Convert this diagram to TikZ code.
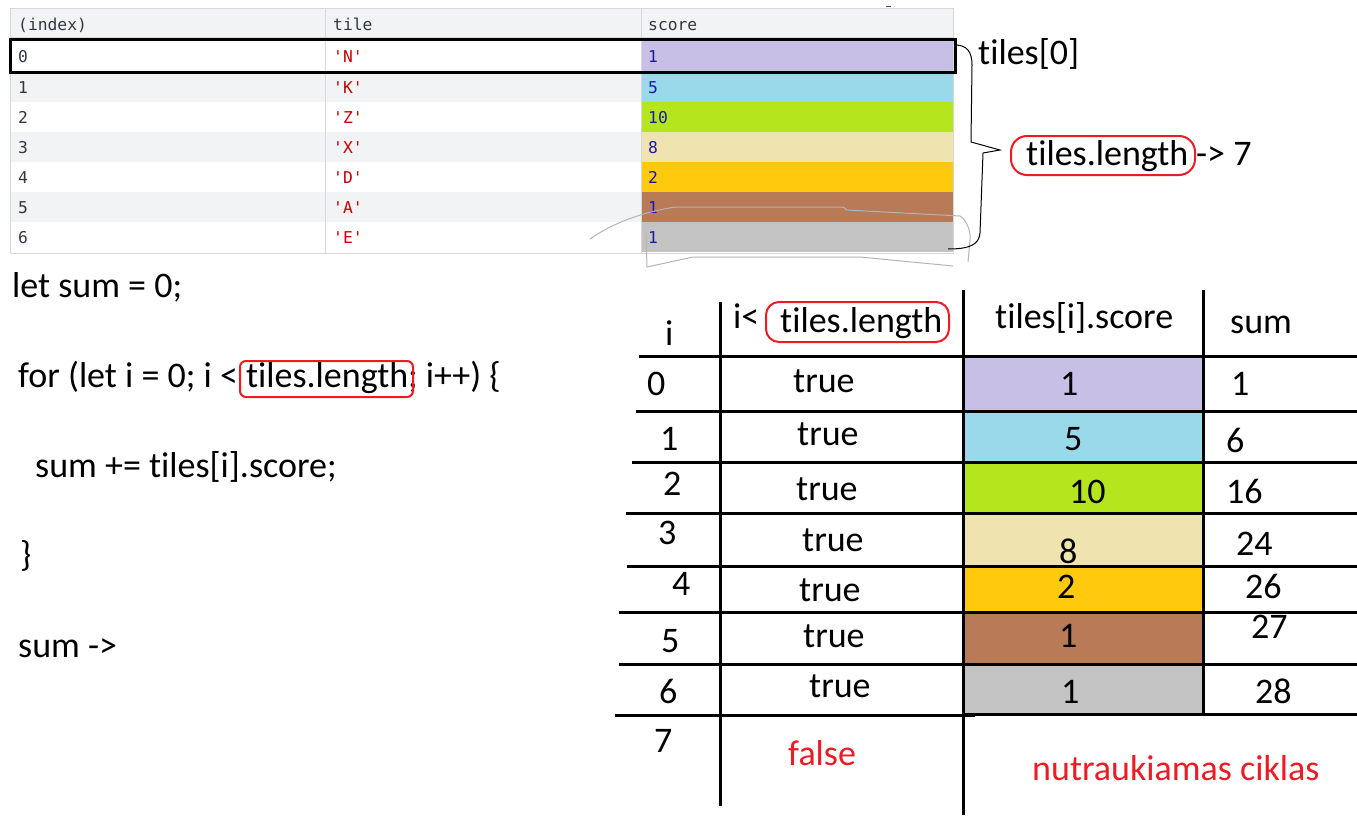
\documentclass[tikz,border=0pt]{standalone}
\usepackage{fontspec}
\setmainfont{Carlito}[RawFeature={-liga}]
\newfontfamily\monof{DejaVu Sans Mono}
\definecolor{hdrgray}{HTML}{F1F3F4}
\definecolor{rowgray}{HTML}{F1F3F4}
\definecolor{gridgray}{HTML}{D5D7DA}
\definecolor{cLav}{HTML}{C8BFE7}
\definecolor{cBlue}{HTML}{99D9EA}
\definecolor{cLime}{HTML}{B5E61D}
\definecolor{cTan}{HTML}{EFE4B0}
\definecolor{cGold}{HTML}{FFC90E}
\definecolor{cBrown}{HTML}{B97A57}
\definecolor{cGray}{HTML}{C3C3C3}
\definecolor{pRed}{HTML}{ED1C24}
\definecolor{strRed}{HTML}{C80000}
\definecolor{numBlue}{HTML}{1A1AA6}
\definecolor{idxText}{HTML}{303942}
\definecolor{scribble}{HTML}{B4B4B4}
\begin{document}
\begin{tikzpicture}[x=1pt,y=-1pt,
  txt/.style={anchor=base west,inner sep=0pt,font=\fontsize{36}{42}\selectfont},
  redtxt/.style={txt,text=pRed},
  mono/.style={anchor=base west,inner sep=0pt,font=\monof\fontsize{16.3}{18}\selectfont},
  idx/.style={mono,text=idxText},
  strv/.style={mono,text=strRed},
  numv/.style={mono,text=numBlue},
  grid/.style={line width=3pt,black},
  redbox/.style={draw=pRed,line width=2pt},
  thin/.style={line width=1pt,scribble}]
\useasboundingbox (0,0) rectangle (1357,816);
\fill[white] (0,0) rectangle (1357,816);

% ---------- top console table ----------
\fill[hdrgray] (10,9) rectangle (953,38);
\foreach \y in {72,132,192} \fill[rowgray] (10,\y) rectangle (953,\y+30);
\fill[cLav]   (641,38)  rectangle (953,72);
\fill[cBlue]  (641,72)  rectangle (953,102);
\fill[cLime]  (641,102) rectangle (953,132);
\fill[cTan]   (641,132) rectangle (953,162);
\fill[cGold]  (641,162) rectangle (953,192);
\fill[cBrown] (641,192) rectangle (953,222);
\fill[cGray]  (641,222) rectangle (953,252);
\draw[gridgray,line width=1pt] (10,9) rectangle (953,253);
\draw[gridgray,line width=1pt] (10,38) -- (953,38);
\draw[gridgray,line width=1pt] (325,9) -- (325,253);
\draw[gridgray,line width=1pt] (641,9) -- (641,253);
\draw[black,line width=3pt] (10.5,39.5) rectangle (955,72.5);

\node[idx] (hidx) at (18,31) {(index)};
\node[idx] (htile) at (333,31) {tile};
\node[idx] (hscore) at (648,31) {score};
\foreach \i/\t/\s in {0/N/1,1/K/5,2/Z/10,3/X/8,4/D/2,5/A/1,6/E/1}{
  \node[idx] (idx\i) at (18,63+30*\i) {\i};
  \node[strv] (tile\i) at (333,63+30*\i) {'\t'};
  \node[numv] (score\i) at (648,63+30*\i) {\s};
}
\draw[black!70,line width=1pt] (886,7) -- (891,7);

% hand-drawn grey scribbles
\draw[thin] (590,239) .. controls (610,225) and (630,218) .. (647,213)
  .. controls (660,210) and (670,207) .. (680,207) -- (843,207) -- (847,210) -- (960,216)
  .. controls (966,220) and (971,230) .. (970,240) -- (968,262);
\draw[thin] (646,233) -- (647,267) -- (693,257) -- (860,257) -- (953,266);

% brace
\draw[black,line width=1pt] (955,45) .. controls (967,45) and (972,52) .. (972,65)
  -- (971,142) -- (1000,150) -- (983,153) -- (980,233)
  .. controls (979,244) and (971,249) .. (948,249);

\node[txt] (t0) at (978,65) {tiles[0]};
\draw[redbox,rounded corners=16pt] (1011,136) rectangle (1195,175);
\node[txt] (tlen) at (1026,165) {tiles.length};
\node[txt] (tlen7) at (1196,165) {-> 7};

% ---------- code ----------
\node[txt] (c1) at (12,297) {let sum = 0;};
\node[txt] (c2) at (18,387) {for (let i = 0; i < tiles.length; i++) \{};
\draw[redbox,rounded corners=6pt] (240,361) rectangle (413,397);
\node[txt] (c3) at (35,477) {sum += tiles[i].score;};
\node[txt] (c4) at (20,566) {\}};
\node[txt] (c5) at (18,657) {sum ->};

% ---------- trace table ----------
\fill[cLav]   (963,356) rectangle (1203,411);
\fill[cBlue]  (963,411) rectangle (1203,462);
\fill[cLime]  (963,462) rectangle (1203,513);
\fill[cTan]   (963,513) rectangle (1203,566);
\fill[cGold]  (963,566) rectangle (1203,612);
\fill[cBrown] (963,612) rectangle (1203,664);
\fill[cGray]  (963,664) rectangle (1203,714);

\draw[grid] (720,302) -- (720,806);
\draw[grid] (963,290) -- (963,815);
\draw[grid] (1203,290) -- (1203,714);
\draw[grid] (639,356) -- (1357,356);
\draw[grid] (636,411) -- (1357,411);
\draw[grid] (632,462) -- (1357,462);
\draw[grid] (626,513) -- (1357,513);
\draw[grid] (627,566) -- (1357,566);
\draw[grid] (619,612) -- (1357,612);
\draw[grid] (619,664) -- (1357,664);
\draw[grid] (615,715) -- (975,715);
\draw[grid] (963,714) -- (1357,714);

\node[txt] (hi) at (665,345) {i};
\node[txt] (hcond) at (733,328) {i<};
\draw[redbox,rounded corners=13pt] (766,302) rectangle (949,342);
\node[txt] (hlen) at (780,332) {tiles.length};
\node[txt] (hsc) at (995,328) {tiles[i].score};
\node[txt] (hsum) at (1230,333) {sum};

\node[txt] (i0) at (647,395) {0};
\node[txt] (i1) at (660,450) {1};
\node[txt] (i2) at (663,495) {2};
\node[txt] (i3) at (658,544) {3};
\node[txt] (i4) at (672,595) {4};
\node[txt] (i5) at (661,652) {5};
\node[txt] (i6) at (659,703) {6};
\node[txt] (i7) at (654,752) {7};

\node[txt] (b0) at (793,392) {true};
\node[txt] (b1) at (797,445) {true};
\node[txt] (b2) at (796,500) {true};
\node[txt] (b3) at (802,551) {true};
\node[txt] (b4) at (799,601) {true};
\node[txt] (b5) at (803,647) {true};
\node[txt] (b6) at (809,697) {true};
\node[redtxt] (b7) at (788,765) {false};

\node[txt] (s0) at (1060,395) {1};
\node[txt] (s1) at (1064,450) {5};
\node[txt] (s2) at (1069,503) {10};
\node[txt] (s3) at (1059,563) {8};
\node[txt] (s4) at (1057,598) {2};
\node[txt] (s5) at (1059,647) {1};
\node[txt] (s6) at (1061,703) {1};

\node[txt] (u0) at (1231,395) {1};
\node[txt] (u1) at (1226,452) {6};
\node[txt] (u2) at (1226,503) {16};
\node[txt] (u3) at (1236,555) {24};
\node[txt] (u4) at (1245,598) {26};
\node[txt] (u5) at (1251,638) {27};
\node[txt] (u6) at (1255,703) {28};

\node[redtxt] (stop) at (1032,780) {nutraukiamas ciklas};
\end{tikzpicture}
\end{document}
